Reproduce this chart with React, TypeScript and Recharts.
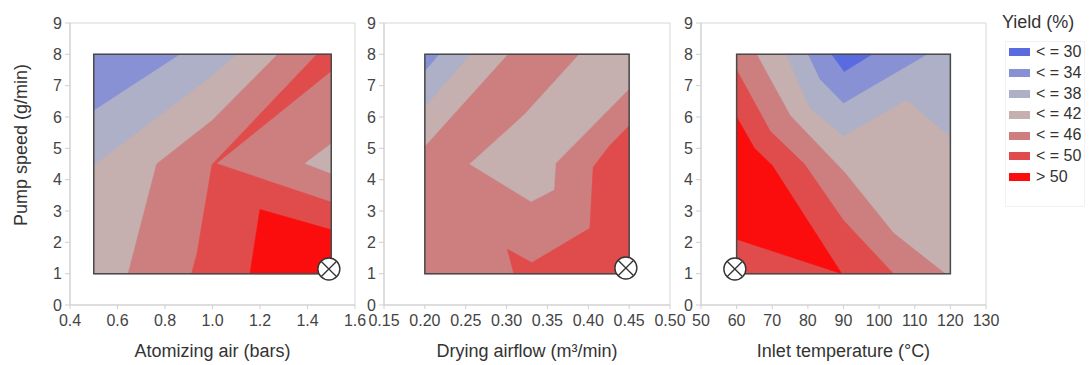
import React from "react";
import { ScatterChart, Scatter, XAxis, YAxis, ReferenceArea } from "recharts";

type Pt = [number, number];
type Region = { level: number; pts: Pt[] };

// yield bands, lowest first
const yieldLabels = ["< = 30", "< = 34", "< = 38", "< = 42", "< = 46", "< = 50", "> 50"];
const bandColors = ["#5a6be0", "#8891d4", "#adb0c7", "#c5afaf", "#cd7f7f", "#e04b4b", "#fc0d0d"];

const pumpTicks = [0, 1, 2, 3, 4, 5, 6, 7, 8, 9];
const airTicks = [0.4, 0.6, 0.8, 1.0, 1.2, 1.4, 1.6];
const flowTicks = [0.15, 0.2, 0.25, 0.3, 0.35, 0.4, 0.45, 0.5];
const tempTicks = [50, 60, 70, 80, 90, 100, 110, 120, 130];

// design space boxes
const airBox: Pt[] = [[0.5, 1], [1.5, 1], [1.5, 8], [0.5, 8]];
const flowBox: Pt[] = [[0.2, 1], [0.45, 1], [0.45, 8], [0.2, 8]];
const tempBox: Pt[] = [[60, 1], [120, 1], [120, 8], [60, 8]];

// contour regions, painted in order (later ones on top)
const airRegions: Region[] = [
  { level: 1, pts: airBox },
  { level: 2, pts: [[0.5, 1], [1.5, 1], [1.5, 8], [0.865, 8], [0.5, 6.2]] },
  { level: 3, pts: [[0.5, 1], [1.5, 1], [1.5, 8], [1.105, 8], [0.98, 7.2], [0.5, 4.45]] },
  { level: 4, pts: [[0.645, 1], [1.5, 1], [1.5, 8], [1.275, 8], [1.0, 5.9], [0.765, 4.5], [0.71, 2.9]] },
  { level: 5, pts: [[0.912, 1], [1.5, 1], [1.5, 8], [1.44, 8], [0.998, 4.48], [0.935, 1.65]] },
  { level: 4, pts: [[1.02, 4.52], [1.5, 7.45], [1.5, 3.3]] },
  { level: 3, pts: [[1.39, 4.52], [1.5, 5.15], [1.5, 4.2]] },
  { level: 6, pts: [[1.158, 1], [1.5, 1], [1.5, 2.4], [1.2, 3.05]] },
];

const flowRegions: Region[] = [
  { level: 1, pts: flowBox },
  { level: 2, pts: [[0.2, 1], [0.45, 1], [0.45, 8], [0.218, 8], [0.2, 7.45]] },
  { level: 3, pts: [[0.2, 1], [0.45, 1], [0.45, 8], [0.256, 8], [0.2, 6.3]] },
  { level: 4, pts: [[0.2, 1], [0.45, 1], [0.45, 8], [0.302, 8], [0.2, 5.05]] },
  { level: 3, pts: [[0.255, 4.5], [0.322, 6.08], [0.389, 8], [0.45, 8], [0.45, 6.9], [0.36, 4.52], [0.358, 3.68], [0.33, 3.3]] },
  { level: 5, pts: [[0.309, 1], [0.45, 1], [0.45, 5.72], [0.425, 5.05], [0.406, 4.4], [0.402, 2.45], [0.331, 1.35], [0.301, 1.78]] },
];

const tempRegions: Region[] = [
  { level: 3, pts: tempBox },
  { level: 2, pts: [[74, 8], [120, 8], [120, 5.37], [107.7, 6.55], [90, 5.4], [80.5, 6.3]] },
  { level: 1, pts: [[80.1, 8], [113.4, 8], [90, 6.45], [83.5, 7.2]] },
  { level: 0, pts: [[86.7, 8], [98, 8], [90.2, 7.45]] },
  { level: 4, pts: [[60, 1], [118.5, 1], [104, 2.3], [90.4, 4.22], [75, 6.05], [65.6, 8], [60, 8]] },
  { level: 5, pts: [[60, 1], [104, 1], [90, 2.7], [79, 4.5], [69.4, 5.55], [60, 7.5]] },
  { level: 6, pts: [[60, 2.1], [89.5, 1], [70, 4.45], [65, 5.0], [60, 6.0]] },
];

// optimum settings
const airOptimum = [{ x: 1.49, y: 1.15 }];
const flowOptimum = [{ x: 0.446, y: 1.18 }];
const tempOptimum = [{ x: 59.5, y: 1.15 }];

const toXY = (pts: Pt[]) => pts.map(([x, y]) => ({ x, y }));

const noDot = () => <g />;

const polyPoints = (points: { x: number; y: number }[]) =>
  (points || []).map((p) => `${p.x},${p.y}`).join(" ");

const fillPolygon = (color: string) => (p: any) => (
  <polygon points={polyPoints(p.points)} fill={color} stroke={color} strokeWidth={0.6} strokeLinejoin="round" />
);

const outline = (p: any) => (
  <polygon points={polyPoints(p.points)} fill="none" stroke="#4a4a4a" strokeWidth={1.5} />
);

function OptimumMark(props: any) {
  const { cx, cy } = props;
  if (cx == null || cy == null) return <g />;
  const r = 11;
  const d = r * 0.707;
  return (
    <g>
      <circle cx={cx} cy={cy} r={r} fill="#fff" stroke="#333" strokeWidth={1.4} />
      <line x1={cx - d} y1={cy - d} x2={cx + d} y2={cy + d} stroke="#333" strokeWidth={1.3} />
      <line x1={cx - d} y1={cy + d} x2={cx + d} y2={cy - d} stroke="#333" strokeWidth={1.3} />
    </g>
  );
}

function PumpTitle(props: any) {
  const vb = props.viewBox || {};
  const x = (vb.x ?? 0) + 21;
  const y = (vb.y ?? 23) + (vb.height ?? 282) / 2 - 19;
  return (
    <text x={x} y={y} transform={`rotate(-90, ${x}, ${y})`} textAnchor="middle" dominantBaseline="central" fontSize={18} fill="#333">
      Pump speed (g/min)
    </text>
  );
}

type PanelProps = {
  left: number;
  width: number;
  yAxisWidth: number;
  marginRight: number;
  xDomain: [number, number];
  xTicks: number[];
  digits: number;
  xTitle: string;
  box: Pt[];
  regions: Region[];
  optimum: { x: number; y: number }[];
  showYTitle?: boolean;
};

function ContourPanel({ left, width, yAxisWidth, marginRight, xDomain, xTicks, digits, xTitle, box, regions, optimum, showYTitle }: PanelProps) {
  return (
    <div style={{ position: "absolute", left, top: 0 }}>
      <ScatterChart width={width} height={365} margin={{ top: 23, right: marginRight, bottom: 0, left: 0 }}>
        <XAxis
          type="number"
          dataKey="x"
          domain={xDomain}
          ticks={xTicks}
          interval={0}
          tickFormatter={(v) => Number(v).toFixed(digits)}
          height={60}
          tickSize={4}
          tickMargin={6}
          stroke="#cfcfcf"
          tick={{ fontSize: 16, fill: "#444" }}
          label={{ value: xTitle, position: "insideBottom", offset: 8, fontSize: 18, fill: "#333" }}
        />
        <YAxis
          type="number"
          dataKey="y"
          domain={[0, 9]}
          ticks={pumpTicks}
          interval={0}
          width={yAxisWidth}
          tickSize={5}
          tickMargin={3}
          stroke="#cfcfcf"
          tick={{ fontSize: 16, fill: "#444" }}
          label={showYTitle ? { value: "Pump speed (g/min)", content: PumpTitle } : undefined}
        />
        <ReferenceArea x1={xDomain[0]} x2={xDomain[1]} y1={0} y2={9} fill="none" stroke="#d6d6d6" ifOverflow="visible" />
        {regions.map((r, i) => (
          <Scatter key={i} data={toXY(r.pts)} shape={noDot} line={fillPolygon(bandColors[r.level])} isAnimationActive={false} />
        ))}
        <Scatter data={toXY(box)} shape={noDot} line={outline} isAnimationActive={false} />
        <Scatter data={optimum} shape={OptimumMark} isAnimationActive={false} />
      </ScatterChart>
    </div>
  );
}

function YieldLegend() {
  return (
    <>
      <div style={{ position: "absolute", left: 1002, top: 12, fontSize: 18, lineHeight: "20px", color: "#333" }}>Yield (%)</div>
      <div style={{ position: "absolute", left: 1005, top: 41, width: 80, height: 166, border: "1px solid #f2f2f2", boxSizing: "border-box" }}>
        {yieldLabels.map((lab, i) => (
          <div key={lab} style={{ position: "relative", height: 20.8, lineHeight: "20.8px", fontSize: 16, color: "#333" }}>
            <span style={{ position: "absolute", left: 3, top: 6.4, width: 21, height: 8, background: bandColors[i] }} />
            <span style={{ position: "absolute", left: 30, top: 0 }}>{lab}</span>
          </div>
        ))}
      </div>
    </>
  );
}

export default function App() {
  return (
    <div
      style={{
        position: "absolute",
        left: 0,
        top: 0,
        width: 1089,
        height: 365,
        background: "#fff",
        fontFamily: '"Liberation Sans", Arial, sans-serif',
      }}
    >
      <ContourPanel left={0} width={375} yAxisWidth={70} marginRight={20} xDomain={[0.4, 1.6]} xTicks={airTicks} digits={1}
        xTitle="Atomizing air (bars)" box={airBox} regions={airRegions} optimum={airOptimum} showYTitle />
      <ContourPanel left={355} width={335} yAxisWidth={29} marginRight={20} xDomain={[0.15, 0.5]} xTicks={flowTicks} digits={2}
        xTitle="Drying airflow (m³/min)" box={flowBox} regions={flowRegions} optimum={flowOptimum} />
      <ContourPanel left={680} width={320} yAxisWidth={21} marginRight={14} xDomain={[50, 130]} xTicks={tempTicks} digits={0}
        xTitle="Inlet temperature (°C)" box={tempBox} regions={tempRegions} optimum={tempOptimum} />
      <YieldLegend />
    </div>
  );
}
